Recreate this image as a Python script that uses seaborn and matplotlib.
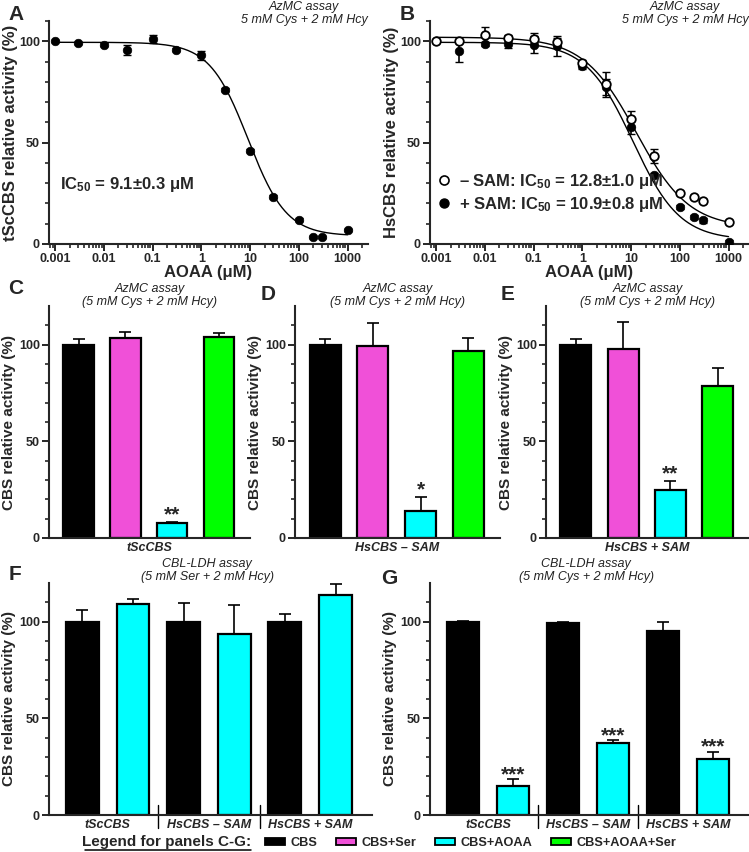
import numpy as np
import pandas as pd
import seaborn as sns
import matplotlib.pyplot as plt
from matplotlib.ticker import MultipleLocator, LogLocator, FuncFormatter, NullFormatter, FixedLocator
from matplotlib.lines import Line2D
from matplotlib.patches import Patch

sns.set_style('ticks')
plt.rcParams['font.family'] = ['Liberation Sans', 'DejaVu Sans']
plt.rcParams['font.weight'] = 'bold'
plt.rcParams['axes.labelweight'] = 'bold'
plt.rcParams['mathtext.fontset'] = 'custom'
plt.rcParams['mathtext.rm'] = 'Liberation Sans:bold'
plt.rcParams['mathtext.default'] = 'rm'

# --- dose response data (panels A, B) ---
aoaa = [0.001, 0.003, 0.01, 0.03, 0.1, 0.3, 1, 3, 10, 30, 100, 200, 300, 1000]
tsc_act = [100, 99.3, 98.4, 95.9, 101.1, 95.9, 93.0, 76.2, 46.0, 23.4, 12.0, 3.6, 3.6, 6.7]
tsc_err = [0.5, 0.5, 0.8, 2.5, 2.0, 0.8, 2.3, 0.8, 0.8, 0.8, 0.8, 0.5, 0.5, 0.5]
hs_nosam = [100, 100, 103.3, 101.6, 101.1, 99.7, 89.3, 78.7, 61.6, 43.6, 25.1, 23.0, 21.0, 10.7]
hs_nosam_err = [0.5, 0.8, 3.8, 1.5, 3.0, 2.0, 1.5, 6.0, 4.0, 3.5, 1.0, 1.0, 1.0, 1.0]
hs_sam = [100, 95.0, 98.7, 98.9, 98.4, 97.5, 87.7, 77.5, 57.9, 33.8, 18.2, 13.1, 11.6, 1.0]
hs_sam_err = [0.5, 5.0, 1.0, 2.0, 4.0, 5.0, 1.5, 4.0, 3.5, 1.0, 1.0, 1.0, 1.0, 1.0]

# fitted 4-parameter logistic curves: (top, bottom, IC50, hill)
fit_tsc = (99.5, 4.0, 9.1, 1.1)
fit_nosam = (102.0, 8.0, 12.8, 0.8)
fit_sam = (99.5, 2.0, 10.9, 0.9)

# --- bar data (panels C-E) ---
treatments = ['CBS', 'CBS+Ser', 'CBS+AOAA', 'CBS+AOAA+Ser']
treat_colors = ['#000000', '#F050D8', '#00FFFF', '#00FF00']
c_vals = [100, 103.3, 7.6, 104.2]
c_err = [3.0, 3.1, 0.6, 2.0]
d_vals = [100, 99.2, 14.2, 96.9]
d_err = [3.0, 12.0, 6.8, 6.4]
e_vals = [100, 97.8, 25.0, 78.8]
e_err = [3.0, 14.0, 4.3, 9.3]

# --- bar data (panels F, G) ---
groups = ['tScCBS', 'HsCBS \u2013 SAM', 'HsCBS + SAM']
fg_treat = ['CBS', 'CBS+AOAA']
f_vals = [100, 109.0, 100, 93.8, 100, 113.8]
f_err = [6.2, 2.9, 9.5, 14.6, 4.0, 5.5]
g_vals = [99.8, 15.0, 99.3, 37.2, 95.0, 28.8]
g_err = [0.3, 3.4, 0.7, 1.6, 5.0, 4.0]

W, H = 749, 852
fig = plt.figure(figsize=(W / 100, H / 100), dpi=100)


def px_axes(left, top, right, bottom):
    return fig.add_axes([left / W, 1 - bottom / H, (right - left) / W, (bottom - top) / H])


def logistic(x, p):
    top, bottom, ic50, hill = p
    return bottom + (top - bottom) / (1 + (x / ic50) ** hill)


def style_axis(ax, fs):
    sns.despine(ax=ax)
    for s in ['left', 'bottom']:
        ax.spines[s].set_linewidth(1.5)
    ax.tick_params(which='major', direction='out', length=5, width=1.4, labelsize=fs, pad=1.5)
    ax.tick_params(which='minor', direction='out', length=3.2, width=1.2)
    for lab in ax.get_xticklabels() + ax.get_yticklabels():
        lab.set_fontweight('bold')


def dose_panel(ax, ylabel):
    ax.set_xscale('log')
    ax.set_xlim(10 ** -3.123, 10 ** 3.42)
    ax.set_ylim(0, 110)
    ax.yaxis.set_major_locator(FixedLocator([0, 50, 100]))
    ax.yaxis.set_minor_locator(MultipleLocator(10))
    ax.xaxis.set_major_locator(LogLocator(base=10, numticks=12))
    ax.xaxis.set_minor_locator(LogLocator(base=10, subs=np.arange(2, 10), numticks=12))
    ax.xaxis.set_minor_formatter(NullFormatter())
    ax.xaxis.set_major_formatter(FuncFormatter(lambda v, p: f'{v:g}'))
    ax.set_xlabel('AOAA (\u03bcM)', fontsize=12, labelpad=0)
    ax.set_ylabel(ylabel, fontsize=12, labelpad=1)
    style_axis(ax, 9)
    ax.text(0.80, 1.035, 'AzMC assay\n5 mM Cys + 2 mM Hcy', transform=ax.transAxes, ha='center',
            va='center', fontsize=9, style='italic', fontweight='normal', color='#222222',
            linespacing=1.1)


xfit = np.logspace(-3, 3, 300)

# ---------- Panel A ----------
axA = px_axes(49, 21, 368, 244)
sns.lineplot(x=xfit, y=logistic(xfit, fit_tsc), ax=axA, color='black', lw=1.0)
axA.errorbar(aoaa, tsc_act, yerr=tsc_err, fmt='none', ecolor='black', elinewidth=1.2, capsize=3, zorder=2)
sns.scatterplot(x=aoaa, y=tsc_act, ax=axA, color='black', edgecolor='black', s=38, zorder=3)
dose_panel(axA, 'tScCBS relative activity (%)')
axA.text(0.035, 0.265, 'IC$_{50}$ = 9.1\u00b10.3 \u03bcM', transform=axA.transAxes, fontsize=12,
         fontweight='bold', va='center')

# ---------- Panel B ----------
axB = px_axes(430, 21, 749, 244)
sns.lineplot(x=xfit, y=logistic(xfit, fit_nosam), ax=axB, color='black', lw=1.0)
sns.lineplot(x=xfit, y=logistic(xfit, fit_sam), ax=axB, color='black', lw=1.0)
axB.errorbar(aoaa, hs_nosam, yerr=hs_nosam_err, fmt='none', ecolor='black', elinewidth=1.2, capsize=3, zorder=2)
axB.errorbar(aoaa, hs_sam, yerr=hs_sam_err, fmt='none', ecolor='black', elinewidth=1.2, capsize=3, zorder=2)
sns.scatterplot(x=aoaa, y=hs_sam, ax=axB, color='black', edgecolor='black', s=38, zorder=3)
sns.scatterplot(x=aoaa, y=hs_nosam, ax=axB, color='white', edgecolor='black', linewidth=1.3, s=38, zorder=4)
dose_panel(axB, 'HsCBS relative activity (%)')
hB = [Line2D([], [], marker='o', ls='none', mfc='white', mec='black', mew=1.2, ms=6.5),
      Line2D([], [], marker='o', ls='none', mfc='black', mec='black', ms=6.5)]
axB.legend(hB, ['\u2013 SAM: IC$_{50}$ = 12.8\u00b11.0 \u03bcM', '+ SAM: IC$_{50}$ = 10.9\u00b10.8 \u03bcM'],
           loc='center left', bbox_to_anchor=(-0.02, 0.228), frameon=False, handlelength=0.7,
           handletextpad=0.5, labelspacing=0.25, prop={'size': 12, 'weight': 'bold'})


# ---------- Bar panels ----------
def bar_panel(ax, keys, vals, errs, colors, stars, star_off, fs_tick=9):
    sns.barplot(x=keys, y=vals, hue=keys, palette=colors, legend=False, ax=ax, width=0.65,
                edgecolor='black', linewidth=1.6, saturation=1)
    n = len(vals)
    ax.errorbar(np.arange(n), vals, yerr=[np.zeros(n), errs], fmt='none', ecolor='black',
                elinewidth=1.2, capsize=4, capthick=1.2, zorder=0.5)
    for i, s in stars.items():
        ax.text(i, vals[i] + errs[i] + star_off, s, ha='center', va='baseline', fontsize=15,
                fontweight='bold')
    ax.set_ylim(0, 120)
    ax.yaxis.set_major_locator(FixedLocator([0, 50, 100]))
    ax.yaxis.set_minor_locator(FixedLocator(np.arange(10, 120, 10)))
    ax.set_ylabel('CBS relative activity (%)', fontsize=11, labelpad=2)
    style_axis(ax, fs_tick)


def cde_panel(left, right, vals, errs, stars, group):
    ax = px_axes(left, 306, right, 538)
    bar_panel(ax, treatments, vals, errs, treat_colors, stars, 0.8)
    ax.set_xlim(-0.63, 3.66)
    ax.set_xticks([])
    ax.set_xlabel(group, fontsize=9, style='italic', labelpad=3)
    ax.text(0.5, 1.047, 'AzMC assay\n(5 mM Cys + 2 mM Hcy)', transform=ax.transAxes, ha='center',
            va='center', fontsize=9, style='italic', fontweight='normal', color='#222222',
            linespacing=1.1)
    return ax


axC = cde_panel(49, 250, c_vals, c_err, {2: '**'}, 'tScCBS')
axD = cde_panel(295, 500, d_vals, d_err, {2: '*'}, 'HsCBS \u2013 SAM')
axE = cde_panel(546, 749, e_vals, e_err, {2: '**'}, 'HsCBS + SAM')


def fg_panel(left, right, vals, errs, stars, star_off, title):
    ax = px_axes(left, 583, right, 815)
    keys = [f'{g} {t}' for g in groups for t in fg_treat]
    colors = ['#000000', '#00FFFF'] * 3
    bar_panel(ax, keys, vals, errs, colors, stars, star_off)
    ax.set_xlim(-0.66, 5.72)
    ax.set_xticks([0.5, 2.5, 4.5])
    ax.set_xticklabels(groups, fontsize=9, style='italic', fontweight='bold')
    ax.tick_params(axis='x', length=0, pad=3)
    ax.set_xlabel('')
    for xs in [1.5, 3.5]:
        ax.axvline(xs, ymin=-0.055, ymax=0.045, color='black', lw=1.0, clip_on=False)
    ax.text(0.49, 1.052, title, transform=ax.transAxes, ha='center', va='center', fontsize=9,
            style='italic', fontweight='normal', color='#222222', linespacing=1.1)
    return ax


axF = fg_panel(49, 372, f_vals, f_err, {}, 0, 'CBL-LDH assay\n(5 mM Ser + 2 mM Hcy)')
axG = fg_panel(430, 749, g_vals, g_err, {1: '***', 3: '***', 5: '***'}, -0.5,
               'CBL-LDH assay\n(5 mM Cys + 2 mM Hcy)')

# panel letters
for letter, (lx, ly) in {'A': (16, 14), 'B': (407, 14), 'C': (16, 288), 'D': (268, 294),
                         'E': (508, 294), 'F': (15, 574), 'G': (389, 579)}.items():
    fig.text(lx / W, 1 - ly / H, letter, fontsize=15, fontweight='bold', ha='center', va='center')

# bottom legend
handles = [Patch(facecolor=c, edgecolor='black', linewidth=1.3) for c in treat_colors]
fig.legend(handles, treatments, loc='center left', bbox_to_anchor=(265 / W, 1 - 843 / H), ncol=4,
           frameon=False, handlelength=1.55, handleheight=0.5, handletextpad=0.45, columnspacing=1.45,
           prop={'size': 9.2, 'weight': 'bold'}, borderpad=0, borderaxespad=0)
fig.text(251 / W, 1 - 842 / H, 'Legend for panels C-G:', ha='right', va='center', fontsize=11,
         fontweight='bold')
fig.add_artist(Line2D([85 / W, 251 / W], [1 - 850 / H] * 2, color='black', lw=1.1))

fig.savefig('out.png', dpi=100)
